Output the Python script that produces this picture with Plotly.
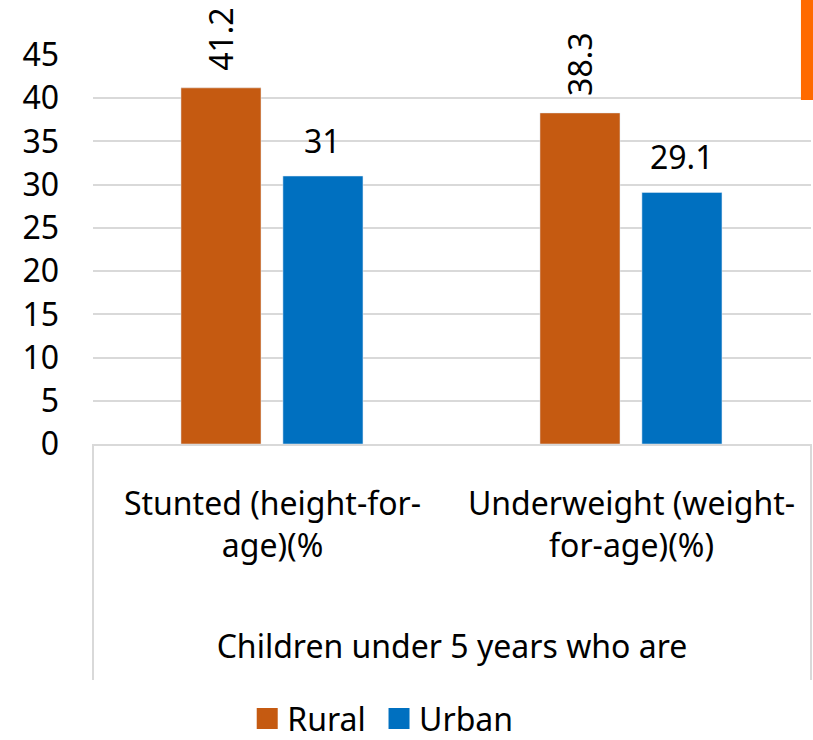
import plotly.graph_objects as go

# Nutrition indicators for children under 5, by area of residence
group_title = "Children under 5 years who are"
categories = ["Stunted (height-for-<br>age)(%", "Underweight (weight-<br>for-age)(%)"]
series_names = ["Rural", "Urban"]
rural = [41.2, 38.3]
urban = [31, 29.1]
y_ticks = [0, 5, 10, 15, 20, 25, 30, 35, 40, 45]

RURAL_COLOR = "#C55A11"
URBAN_COLOR = "#0070C0"
GRID = "#D9D9D9"
FONT = "Noto Sans"
FS = 32
BAR_W = 0.223
RURAL_OFF = -0.255
URBAN_OFF = 0.029

fig = go.Figure()
fig.add_trace(go.Bar(
    x=categories, y=rural, name=series_names[0], marker_color=RURAL_COLOR,
    width=BAR_W, offset=RURAL_OFF, showlegend=False,
))
fig.add_trace(go.Bar(
    x=categories, y=urban, name=series_names[1], marker_color=URBAN_COLOR,
    width=BAR_W, offset=URBAN_OFF, showlegend=False,
))
# legend entries with larger square swatches (nbsp padding spaces the entries)
for name, col in zip(series_names, [RURAL_COLOR, URBAN_COLOR]):
    fig.add_trace(go.Scatter(
        x=[None], y=[None], mode="markers", name=name + "\u00a0",
        marker=dict(symbol="square", size=16, color=col,
                    line=dict(width=5, color=col)),
    ))

# value labels above each bar
annotations = []
for i, v in enumerate(rural):
    annotations.append(dict(
        x=i + RURAL_OFF + BAR_W / 2, y=v, xref="x", yref="y", text=f"{v:g}",
        showarrow=False, textangle=-90, yanchor="bottom", xanchor="center",
        yshift=15, font=dict(family=FONT, size=FS, color="#000"),
    ))
for i, v in enumerate(urban):
    annotations.append(dict(
        x=i + URBAN_OFF + BAR_W / 2, y=v, xref="x", yref="y", text=f"{v:g}",
        showarrow=False, yanchor="bottom", xanchor="center",
        yshift=12, font=dict(family=FONT, size=FS, color="#000"),
    ))

fig.update_layout(
    width=813, height=740,
    margin=dict(l=93, r=2, t=55, b=296, autoexpand=False),
    paper_bgcolor="white", plot_bgcolor="white",
    font=dict(family=FONT, size=FS, color="#000"),
    barmode="group",
    showlegend=True,
    legend=dict(
        orientation="h", x=0.2148, xanchor="left", y=-0.706, yanchor="middle",
        font=dict(family=FONT, size=FS, color="#000"),
        itemsizing="trace", itemwidth=30, tracegroupgap=0,
        bgcolor="rgba(0,0,0,0)",
    ),
    xaxis=dict(
        type="category", tickangle=0, automargin=False,
        showline=True, linecolor=GRID, linewidth=2,
        showgrid=False, ticks="", ticklabelstandoff=31,
        tickfont=dict(family=FONT, size=FS, color="#000"),
        title=dict(text=group_title, standoff=71,
                   font=dict(family=FONT, size=FS, color="#000")),
    ),
    yaxis=dict(
        range=[0, 45], tickvals=y_ticks, ticktext=[str(t) for t in y_ticks],
        showgrid=True, gridcolor=GRID, gridwidth=2, automargin=False,
        showline=False, zeroline=False, ticks="", ticklabelstandoff=33,
        tickfont=dict(family=FONT, size=FS, color="#000"),
    ),
    annotations=annotations,
    shapes=[
        # category frame below the axis
        dict(type="line", xref="paper", yref="paper", x0=0, x1=0, y0=0, y1=-0.607,
             line=dict(color=GRID, width=2)),
        dict(type="line", xref="paper", yref="paper", x0=1, x1=1, y0=0, y1=-0.607,
             line=dict(color=GRID, width=2)),
        # edge of the neighbouring element at the top right
        dict(type="rect", xref="paper", yref="paper", x0=0.986, x1=1.004,
             y0=0.884, y1=1.145, fillcolor="#FF6A00", line_width=0, layer="above"),
    ],
)

fig.write_html("out.html")
